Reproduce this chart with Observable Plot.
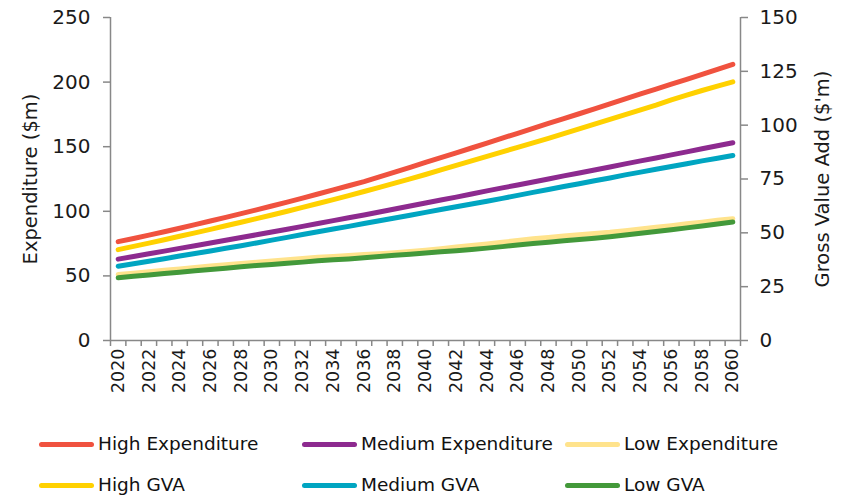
<!DOCTYPE html>
<html><head><meta charset="utf-8">
<script src="https://cdn.jsdelivr.net/npm/d3@7"></script>
<script src="https://cdn.jsdelivr.net/npm/@observablehq/plot@0.6"></script>
<style>
body{margin:0;background:#fff;font-family:"DejaVu Sans",sans-serif;}
#wrap{position:relative;width:843px;height:498px;overflow:hidden;}
.leg{position:absolute;display:flex;align-items:center;font-size:18.5px;color:#111;white-space:nowrap;line-height:1;}
.sw{width:55px;height:5px;border-radius:3px;margin-right:4px;}
</style></head><body><div id="wrap"></div><script>
const years = [2020,2021,2022,2023,2024,2025,2026,2027,2028,2029,2030,2031,2032,2033,2034,2035,2036,2037,2038,2039,2040,2041,2042,2043,2044,2045,2046,2047,2048,2049,2050,2051,2052,2053,2054,2055,2056,2057,2058,2059,2060];
const yearLabels = [2020,2022,2024,2026,2028,2030,2032,2034,2036,2038,2040,2042,2044,2046,2048,2050,2052,2054,2056,2058,2060];
const leftTicks = [0,50,100,150,200,250];
const rightTicks = [0,25,50,75,100,125,150];

const highExp = [76.5,79.0,81.6,84.2,86.9,89.7,92.5,95.3,98.2,101.1,104.1,107.1,110.2,113.4,116.6,119.8,123.0,126.6,130.3,134.0,137.9,141.6,145.3,149.0,152.8,156.6,160.4,164.2,168.0,171.7,175.5,179.3,183.2,187.1,190.9,194.6,198.4,202.2,206.0,209.8,213.7];
const medExp = [63.0,65.0,67.1,69.2,71.3,73.3,75.4,77.6,79.7,81.8,84.0,86.1,88.3,90.5,92.8,95.0,97.2,99.5,101.8,104.1,106.4,108.7,111.0,113.4,115.8,118.1,120.4,122.7,125.0,127.4,129.7,132.0,134.3,136.7,139.0,141.3,143.7,146.0,148.4,150.7,153.1];
const lowExp = [51.0,52.1,53.2,54.3,55.4,56.5,57.6,58.6,59.6,60.5,61.5,62.5,63.4,64.4,65.1,65.8,66.5,67.2,68.0,68.9,69.9,71.1,72.3,73.5,74.7,76.0,77.4,78.7,79.8,80.9,81.9,82.9,83.8,85.0,86.3,87.6,88.9,90.3,91.6,93.0,94.3];
const highGVA = [42.2,43.7,45.2,46.8,48.4,50.0,51.6,53.3,54.9,56.6,58.3,60.0,61.8,63.6,65.4,67.3,69.2,71.1,73.1,75.1,77.1,79.2,81.3,83.4,85.5,87.6,89.7,91.8,93.9,96.1,98.3,100.5,102.7,104.9,107.1,109.3,111.7,113.9,116.1,118.1,120.1];
const medGVA = [34.5,35.6,36.8,38.0,39.2,40.4,41.6,42.8,44.0,45.3,46.6,47.9,49.2,50.5,51.8,53.0,54.3,55.6,56.9,58.2,59.5,60.8,62.1,63.4,64.7,66.0,67.4,68.8,70.1,71.5,72.8,74.2,75.5,76.9,78.2,79.5,80.8,82.1,83.4,84.6,85.9];
const lowGVA = [29.1,29.8,30.4,31.1,31.7,32.4,33.0,33.6,34.2,34.8,35.3,35.9,36.4,37.0,37.5,37.9,38.4,39.0,39.6,40.1,40.6,41.2,41.7,42.3,42.9,43.6,44.3,45.0,45.6,46.3,46.9,47.5,48.2,49.0,49.8,50.6,51.4,52.3,53.2,54.1,55.0];

const seriesNames = ["High Expenditure","Medium Expenditure","Low Expenditure","High GVA","Medium GVA","Low GVA"];
const seriesValues = [highExp, medExp, lowExp, highGVA, medGVA, lowGVA];
const seriesAxis = ["left","left","left","right","right","right"];
const seriesColors = ["#F0523F","#8D2A8F","#FFE38C","#FFD100","#00A5C1","#43993A"];

const LEFT_MAX = 250, RIGHT_MAX = 150;
const rows = [];
seriesNames.forEach((name, s) => {
  seriesValues[s].forEach((v, i) => {
    rows.push({name, year: years[i], v: seriesAxis[s] === "right" ? v * LEFT_MAX / RIGHT_MAX : v});
  });
});
const boundaries = years.map(y => y - 0.5).concat([years[years.length - 1] + 0.5]);

const H = 410;
const chart = Plot.plot({
  width: 843, height: H,
  marginLeft: 110, marginRight: 103, marginTop: 17, marginBottom: H - 340,
  style: {fontFamily: "DejaVu Sans", fontSize: "19px", color: "#1a1a1a", background: "white", overflow: "visible"},
  x: {type: "linear", domain: [boundaries[0], boundaries[boundaries.length - 1]]},
  y: {domain: [0, LEFT_MAX]},
  color: {domain: seriesNames, range: seriesColors},
  marks: [
    Plot.ruleX([boundaries[0], boundaries[boundaries.length - 1]], {stroke: "#888", strokeWidth: 1.5}),
    Plot.ruleY([0], {stroke: "#888", strokeWidth: 1.5}),
    Plot.axisY(leftTicks, {anchor: "left", tickSize: 7, tickPadding: 13, stroke: "#888", strokeWidth: 1.5, label: null, fontSize: 20}),
    Plot.axisY(rightTicks.map(t => t * LEFT_MAX / RIGHT_MAX), {anchor: "right", tickSize: 7, tickPadding: 12, stroke: "#888", strokeWidth: 1.5, label: null, fontSize: 20, tickFormat: d => String(Math.round(d * RIGHT_MAX / LEFT_MAX))}),
    Plot.axisX(boundaries, {anchor: "bottom", tickSize: 6, stroke: "#888", strokeWidth: 1.5, tickFormat: () => "", label: null}),
    Plot.axisX(yearLabels, {anchor: "bottom", tickSize: 0, tickPadding: 8, tickRotate: -90, label: null, fontSize: 17.5, tickFormat: d => String(d)}),
    Plot.lineY(rows, {x: "year", y: "v", z: "name", stroke: "name", strokeWidth: 5, strokeLinecap: "round", strokeLinejoin: "round"}),
    Plot.text(["Expenditure ($m)"], {frameAnchor: "left", textAnchor: "middle", rotate: -90, dx: -80, fontSize: 19.5, fill: "#1a1a1a"}),
    Plot.text(["Gross Value Add ($'m)"], {frameAnchor: "right", textAnchor: "middle", rotate: -90, dx: 82, fontSize: 19.5, fill: "#1a1a1a"})
  ]
});
const wrap = document.getElementById("wrap");
wrap.appendChild(chart);

const legPos = [[39,444],[302,444],[565,444],[39,485],[302,485],[565,485]];
seriesNames.forEach((name, i) => {
  const el = document.createElement("div");
  el.className = "leg";
  el.style.left = legPos[i][0] + "px";
  el.style.top = (legPos[i][1] - 10) + "px";
  el.style.height = "20px";
  const sw = document.createElement("div");
  sw.className = "sw";
  sw.style.background = seriesColors[i];
  const tx = document.createElement("span");
  tx.textContent = name;
  el.appendChild(sw); el.appendChild(tx);
  wrap.appendChild(el);
});
</script></body></html>
